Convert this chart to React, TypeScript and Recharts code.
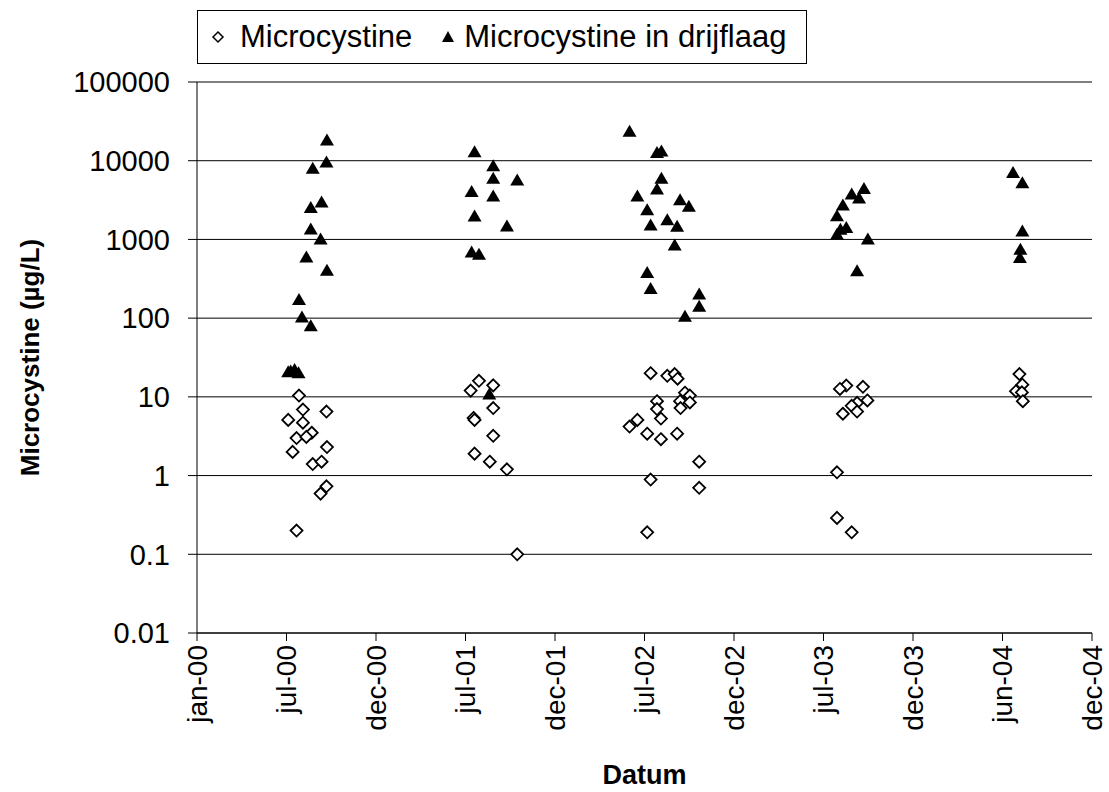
import { CartesianGrid, Scatter, ScatterChart, XAxis, YAxis } from "recharts";

const FONT = "'Liberation Sans', Arial, sans-serif";

const X_TICK_LABELS = [
  "jan-00", "jul-00", "dec-00", "jul-01", "dec-01", "jul-02",
  "dec-02", "jul-03", "dec-03", "jun-04", "dec-04",
];
const Y_TICKS = [0.01, 0.1, 1, 10, 100, 1000, 10000, 100000];

// Microcystine (water samples)
const WATER_DATES = [
  "2000-07-27", "2000-08-04", "2000-09-21", "2000-07-05", "2000-08-04", "2000-08-22", "2000-07-22", "2000-08-11",
  "2000-07-14", "2000-09-22", "2000-08-24", "2000-09-11", "2000-09-21", "2000-09-09", "2000-07-22",
  "2001-07-29", "2001-07-12", "2001-08-27", "2001-08-27", "2001-07-18", "2001-07-20", "2001-08-27", "2001-07-20",
  "2001-08-20", "2001-09-24", "2001-10-15",
  "2002-07-14", "2002-08-17", "2002-09-01", "2002-09-07", "2002-09-22", "2002-10-02", "2002-07-27", "2002-09-12",
  "2002-10-02", "2002-07-27", "2002-09-13", "2002-08-04", "2002-06-17", "2002-06-01", "2002-07-07", "2002-08-04",
  "2002-09-06", "2002-10-21", "2002-07-14", "2002-10-21", "2002-07-07",
  "2003-08-17", "2003-09-20", "2003-08-04", "2003-09-29", "2003-09-08", "2003-08-28", "2003-09-08", "2003-08-10",
  "2003-07-29", "2003-07-29", "2003-08-28",
  "2004-08-04", "2004-08-10", "2004-07-28", "2004-08-09", "2004-08-11",
];
const WATER_VALUES = [
  10.4, 6.9, 6.5, 5.1, 4.7, 3.5, 3.0, 3.1,
  2.0, 2.3, 1.4, 1.5, 0.73, 0.59, 0.2,
  16, 12, 14, 7.2, 5.4, 5.1, 3.2, 1.9,
  1.5, 1.2, 0.1,
  20, 18.5, 19.5, 17, 11.3, 10.4, 8.8, 8.8,
  8.5, 7.0, 7.2, 5.3, 5.1, 4.2, 3.4, 2.9,
  3.4, 1.5, 0.89, 0.7, 0.19,
  13.9, 13.4, 12.6, 9.0, 8.4, 7.7, 6.5, 6.1,
  1.1, 0.29, 0.19,
  19.5, 14.3, 11.8, 11.4, 8.8,
];

// Microcystine in drijflaag (scum samples)
const SCUM_DATES = [
  "2000-09-22", "2000-09-21", "2000-08-24", "2000-09-11", "2000-08-20", "2000-08-20", "2000-09-09", "2000-08-11",
  "2000-09-22", "2000-07-27", "2000-08-02", "2000-08-20", "2000-07-05", "2000-07-10", "2000-07-18", "2000-07-26",
  "2001-07-20", "2001-08-27", "2001-08-27", "2001-10-15", "2001-07-14", "2001-08-27", "2001-07-20", "2001-09-24",
  "2001-07-14", "2001-07-29", "2001-08-19",
  "2002-06-01", "2002-07-27", "2002-08-05", "2002-08-05", "2002-07-27", "2002-06-17", "2002-09-12", "2002-09-30",
  "2002-07-07", "2002-08-17", "2002-07-14", "2002-09-06", "2002-09-01", "2002-07-07", "2002-07-14", "2002-10-21",
  "2002-10-21", "2002-09-22",
  "2003-09-22", "2003-08-28", "2003-09-12", "2003-08-10", "2003-07-29", "2003-08-17", "2003-08-05", "2003-07-29",
  "2003-09-30", "2003-09-08",
  "2004-07-22", "2004-08-10", "2004-08-10", "2004-08-06", "2004-08-05",
];
const SCUM_VALUES = [
  18000, 9500, 7900, 2950, 2500, 1340, 1000, 590,
  400, 170, 102, 79, 20.5, 21, 22, 20,
  12800, 8500, 5900, 5600, 4000, 3500, 1950, 1460,
  680, 640, 10.7,
  23300, 12500, 13100, 5900, 4300, 3500, 3150, 2600,
  2350, 1750, 1500, 1450, 840, 375, 235, 200,
  140, 104,
  4370, 3720, 3300, 2700, 1970, 1400, 1330, 1150,
  1000, 395,
  6960, 5160, 1260, 740, 580,
];

const START = Date.parse("2000-01-01");
const dayOf = (iso: string) => (Date.parse(iso) - START) / 86400000;

const X_TICKS = X_TICK_LABELS.map((_, i) => i * 182.5);

const waterData = WATER_DATES.map((d, i) => ({ x: dayOf(d), y: WATER_VALUES[i] }));
const scumData = SCUM_DATES.map((d, i) => ({ x: dayOf(d), y: SCUM_VALUES[i] }));

const Diamond = ({ cx, cy }: any) => (
  <path
    d={`M${cx},${cy - 6}L${cx + 6},${cy}L${cx},${cy + 6}L${cx - 6},${cy}Z`}
    fill="#fff"
    stroke="#000"
    strokeWidth={1.8}
  />
);

const Triangle = ({ cx, cy }: any) => (
  <path d={`M${cx},${cy - 7}L${cx + 7},${cy + 5}L${cx - 7},${cy + 5}Z`} fill="#000" />
);

const XTick = ({ x, y, payload, index }: any) => (
  <g transform={`translate(${x},${y})`}>
    <text
      transform="rotate(-90)"
      textAnchor="end"
      dy="0.35em"
      fontSize={28}
      fontFamily={FONT}
      fill="#000"
    >
      {X_TICK_LABELS[index] ?? payload.value}
    </text>
  </g>
);

function LegendBox() {
  return (
    <div
      style={{
        position: "absolute",
        left: 197,
        top: 10,
        width: 610,
        height: 54,
        border: "1px solid #000",
        background: "#fff",
        display: "flex",
        alignItems: "center",
        fontFamily: FONT,
        fontSize: 31,
        color: "#000",
        boxSizing: "border-box",
        whiteSpace: "nowrap",
      }}
    >
      <svg width={16} height={16} style={{ marginLeft: 12, marginRight: 14 }}>
        <path d="M8,3L13,8L8,13L3,8Z" fill="#fff" stroke="#000" strokeWidth={1.5} />
      </svg>
      <span>Microcystine</span>
      <svg width={16} height={16} style={{ marginLeft: 28, marginRight: 8 }}>
        <path d="M8,2L14,13L2,13Z" fill="#000" />
      </svg>
      <span>Microcystine in drijflaag</span>
    </div>
  );
}

export default function App() {
  return (
    <div style={{ position: "relative", width: 1109, height: 792, background: "#fff" }}>
      <style>{"body{margin:0}"}</style>
      <ScatterChart width={1109} height={792} margin={{ top: 82, right: 17, bottom: 0, left: 0 }}>
        <CartesianGrid vertical={false} stroke="#000" strokeWidth={1} />
        <XAxis
          type="number"
          dataKey="x"
          domain={[0, 1825]}
          ticks={X_TICKS}
          interval={0}
          height={159}
          tick={<XTick />}
          tickSize={8}
          tickMargin={4}
          axisLine={{ stroke: "#000" }}
          tickLine={{ stroke: "#000" }}
          label={{
            value: "Datum",
            position: "insideBottom",
            offset: 8,
            fontSize: 27,
            fontWeight: "bold",
            fontFamily: FONT,
            fill: "#000",
          }}
        />
        <YAxis
          type="number"
          dataKey="y"
          scale="log"
          domain={[0.01, 100000]}
          ticks={Y_TICKS}
          interval={0}
          width={197}
          tickSize={9}
          tickMargin={18}
          axisLine={{ stroke: "#000" }}
          tickLine={{ stroke: "#000" }}
          tick={{ fontSize: 29, fontFamily: FONT, fill: "#000" }}
          tickFormatter={(v: number) => String(v)}
          label={{
            content: ({ viewBox }: any) => {
              const cx = 30;
              const cy = viewBox.y + viewBox.height / 2;
              return (
                <text
                  x={cx}
                  y={cy}
                  transform={`rotate(-90 ${cx} ${cy})`}
                  textAnchor="middle"
                  dominantBaseline="central"
                  fontSize={26}
                  fontWeight="bold"
                  fontFamily={FONT}
                  fill="#000"
                >
                  Microcystine (µg/L)
                </text>
              );
            },
          }}
        />
        <Scatter name="Microcystine" data={waterData} shape={<Diamond />} isAnimationActive={false} />
        <Scatter name="Microcystine in drijflaag" data={scumData} shape={<Triangle />} isAnimationActive={false} />
      </ScatterChart>
      <LegendBox />
    </div>
  );
}
